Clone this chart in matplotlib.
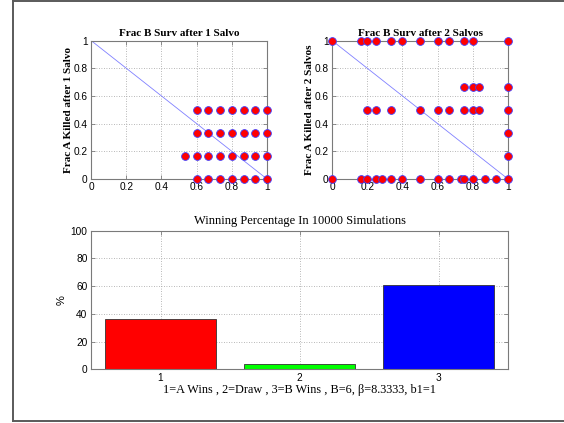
import matplotlib
matplotlib.use("Agg")
import matplotlib.pyplot as plt
from matplotlib.lines import Line2D

# Fraction of B surviving / fraction of A killed after one salvo
s1_x = [0.6, 0.6667, 0.7333, 0.8, 0.8667, 0.9333, 1.0,
        0.6, 0.6667, 0.7333, 0.8, 0.8667, 0.9333, 1.0,
        0.5333, 0.6, 0.6667, 0.7333, 0.8, 0.8667, 0.9333, 1.0,
        0.6, 0.6667, 0.7333, 0.8, 0.8667, 0.9333, 1.0]
s1_y = [0.5] * 7 + [1 / 3] * 7 + [1 / 6] * 8 + [0.0] * 7

# After two salvos
s2_x = [0.0, 1 / 6, 0.2, 0.25, 1 / 3, 0.4, 0.5, 0.6, 2 / 3, 0.75, 0.8, 1.0,
        0.75, 0.8, 5 / 6, 1.0,
        0.2, 0.25, 1 / 3, 0.5, 0.6, 2 / 3, 0.75, 0.8, 5 / 6, 1.0,
        1.0, 1.0,
        0.0, 1 / 6, 0.2, 0.25, 2 / 7, 1 / 3, 0.4, 0.5, 0.6, 2 / 3, 0.7333, 0.75,
        0.8, 0.8667, 0.9333, 1.0]
s2_y = ([1.0] * 12 + [2 / 3] * 4 + [0.5] * 10 + [1 / 3, 1 / 6] + [0.0] * 16)

# Winning percentages
outcomes = [1, 2, 3]
win_pct = [36.0, 3.5, 60.5]
bar_colors = ["#ff0000", "#00ff00", "#0000ff"]

serif = ["Liberation Serif", "DejaVu Serif"]
sans = ["Liberation Sans", "DejaVu Sans"]
plt.rcParams["font.family"] = sans
tick_fs = 7.3
gray = "#7a7a7a"

fig = plt.figure(figsize=(5.64, 4.23), dpi=100)
fig.patch.set_facecolor("white")

# outer frame
fc = "#5a5a5a"
fig.add_artist(Line2D([12.5 / 564, 12.5 / 564], [2 / 423, 421.5 / 423], color=fc, lw=1.4,
                      transform=fig.transFigure))
fig.add_artist(Line2D([12.5 / 564, 1.0], [421.5 / 423, 421.5 / 423], color=fc, lw=1.4,
                      transform=fig.transFigure))
fig.add_artist(Line2D([12.5 / 564, 1.0], [2 / 423, 2 / 423], color=fc, lw=1.4,
                      transform=fig.transFigure))


def style_axes(ax):
    for sp in ax.spines.values():
        sp.set_color(gray)
        sp.set_linewidth(0.8)
    ax.tick_params(direction="in", length=3, width=0.6, color=gray,
                   labelsize=tick_fs, pad=2.5, top=True, right=True)
    ax.grid(True, linestyle=(0, (1, 2)), color="#a0a0a0", linewidth=0.6)
    ax.set_axisbelow(True)


def scatter_panel(ax, xs, ys, title, ylabel):
    ax.plot([0, 1], [1, 0], color="#8080ff", lw=0.6)
    ax.plot(xs, ys, linestyle="none", marker="o", markersize=5.6,
            markerfacecolor="#ff0000", markeredgecolor="#4040ff",
            markeredgewidth=0.6, clip_on=False, zorder=3)
    ax.set_xlim(0, 1)
    ax.set_ylim(0, 1)
    ax.set_xticks([0, 0.2, 0.4, 0.6, 0.8, 1])
    ax.set_xticklabels(["0", "0.2", "0.4", "0.6", "0.8", "1"])
    ax.set_yticks([0, 0.2, 0.4, 0.6, 0.8, 1])
    ax.set_yticklabels(["0", "0.2", "0.4", "0.6", "0.8", "1"])
    style_axes(ax)
    ax.set_title(title, family=serif, fontweight="bold", fontsize=8, pad=3.5)
    ax.set_ylabel(ylabel, family=serif, fontweight="bold", fontsize=8, labelpad=0.5)


ax1 = fig.add_axes([91 / 564, 1 - 179 / 423, 176 / 564, 138.5 / 423])
scatter_panel(ax1, s1_x, s1_y, "Frac B Surv after 1 Salvo", "Frac A Killed after 1 Salvo")

ax2 = fig.add_axes([332 / 564, 1 - 179 / 423, 176 / 564, 138.5 / 423])
scatter_panel(ax2, s2_x, s2_y, "Frac B Surv after 2 Salvos", "Frac A Killed after 2 Salvos")

ax3 = fig.add_axes([91 / 564, 1 - 369.3 / 423, 417 / 564, 138.6 / 423])
ax3.bar(outcomes, win_pct, width=0.8, color=bar_colors, edgecolor="#333333",
        linewidth=0.6, zorder=2)
ax3.set_xlim(0.5, 3.5)
ax3.set_ylim(0, 100)
ax3.set_xticks(outcomes)
ax3.set_yticks([0, 20, 40, 60, 80, 100])
style_axes(ax3)
ax3.set_title("Winning Percentage In 10000 Simulations", family=serif, fontsize=9, pad=5)
ax3.set_ylabel("%", fontsize=8, labelpad=3)
ax3.set_xlabel("1=A Wins , 2=Draw , 3=B Wins , B=6, \u03b2=8.3333, b1=1",
               family=serif, fontsize=8.8, labelpad=1)

fig.savefig("out.png", dpi=100, facecolor="white")
